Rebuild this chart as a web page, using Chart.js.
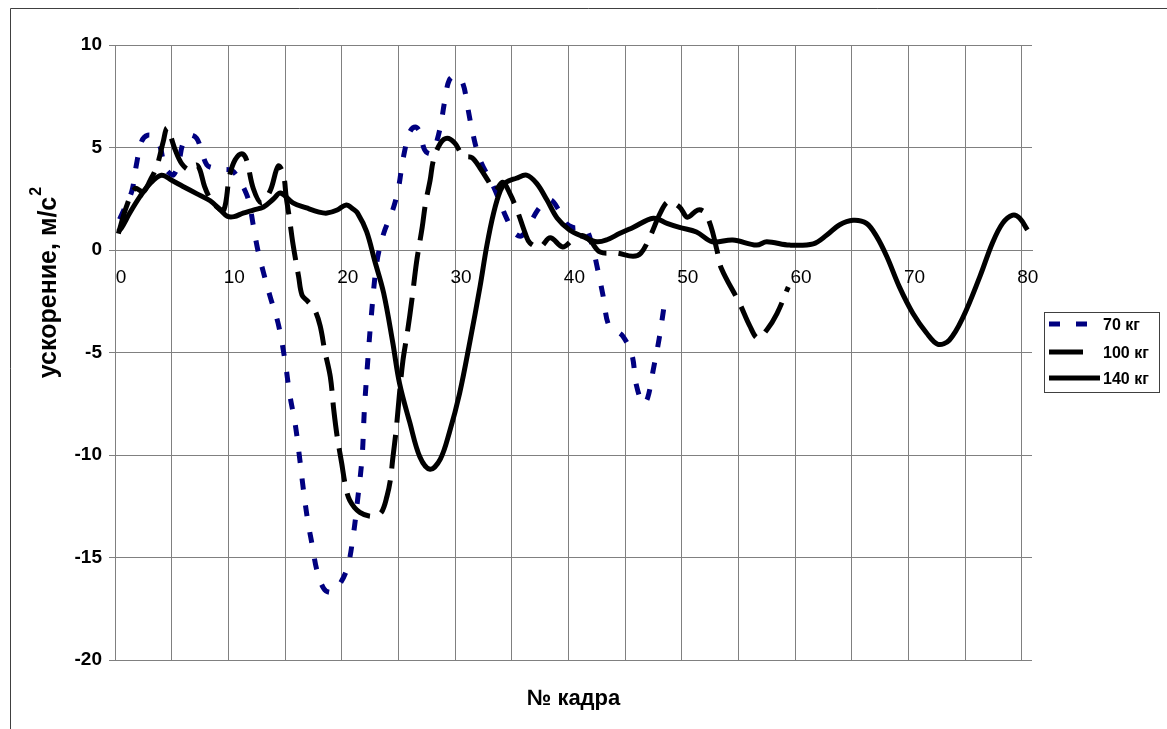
<!DOCTYPE html>
<html>
<head>
<meta charset="utf-8">
<script src="https://cdn.jsdelivr.net/npm/chart.js@4.4.1/dist/chart.umd.min.js"></script>
<style>
  html, body { margin: 0; padding: 0; background: #fff; }
</style>
</head>
<body>
<canvas id="accelChart" width="1167" height="729"></canvas>
<script>
const FONT = '"Liberation Sans", Arial, sans-serif';
const GRID = '#808080';

const seriesNames = ['70 кг', '100 кг', '140 кг'];

// 70 kg
const frames70 = [0.4, 0.9, 1.5, 1.9, 2.35, 2.9, 3.5, 4.0, 4.35, 4.7, 5.15, 5.6, 6.0, 6.6, 7.2, 7.6, 8.1, 8.7, 9.6, 10.3,
  10.9, 11.3, 11.8, 12.2, 12.6, 13.1, 13.7, 14.4, 15.0, 15.4, 15.9, 16.3, 16.6, 17.0, 17.4, 17.8, 18.4, 19.0, 19.7, 20.5,
  21.0, 21.4, 21.8, 22.0, 22.3, 22.6, 23.1, 23.7, 24.5, 25.0, 25.4, 26.0, 26.5, 26.9, 27.3, 27.8, 28.2, 28.7, 29.1, 29.5,
  30.1, 30.7, 31.1, 31.6, 32.2, 33.3, 34.0, 34.5, 35.3, 35.9, 36.6, 37.5, 38.4, 39.1, 39.8, 40.4, 41.0, 41.6, 42.2, 42.5,
  43.1, 43.5, 44.1, 44.8, 45.6, 46.0, 46.6, 47.0, 47.5, 48.0, 48.4];
const accel70 = [1.5, 2.1, 2.9, 4.2, 5.3, 5.6, 5.5, 5.0, 4.1, 3.8, 3.66, 4.2, 5.2, 5.6, 5.45, 4.9, 4.15, 4.0, 3.94, 3.88,
  3.5, 3.1, 2.4, 1.2, 0.0, -1.1, -2.3, -3.6, -5.4, -7.0, -8.5, -10.2, -11.6, -13.2, -14.4, -15.6, -16.5, -16.7, -16.4, -15.5,
  -14.0, -12.2, -10.1, -7.8, -5.4, -3.3, -0.6, 0.8, 1.95, 3.0, 4.4, 5.75, 6.0, 5.75, 4.9, 4.7, 5.0, 6.0, 7.3, 8.3,
  8.5, 8.1, 7.0, 5.6, 4.4, 3.2, 2.3, 1.6, 0.8, 0.7, 1.3, 2.1, 2.45, 2.0, 1.3, 1.1, 1.1, 1.0, 0.0, -0.73,
  -2.35, -3.58, -3.9, -4.2, -5.1, -6.6, -7.5, -7.2, -5.8, -4.35, -2.9];

// 100 kg
const frames100 = [0.3, 1.0, 1.76, 2.5, 3.1, 3.7, 4.26, 4.6, 5.3, 5.9, 6.6, 7.2, 7.5, 7.9, 8.4, 9.0, 9.6, 10.1, 10.6, 11.2,
  11.6, 12.2, 12.9, 13.7, 14.4, 14.85, 15.1, 15.4, 15.7, 16.2, 16.5, 17.0, 17.6, 18.1, 18.5, 19.0, 19.3, 19.6, 20.0, 20.3,
  20.7, 21.6, 22.8, 23.5, 24.0, 24.3, 24.5, 24.8, 25.1, 25.4, 25.8, 26.2, 26.6, 27.1, 27.4, 27.8, 28.1, 28.7, 29.3, 30.0,
  30.7, 31.5, 32.2, 32.9, 33.5, 34.2, 34.8, 35.5, 36.2, 36.6, 37.5, 38.4, 39.5, 40.4, 41.3, 42.0, 42.8, 44.3, 45.7, 46.4,
  47.2, 48.1, 48.8, 49.8, 50.5, 51.4, 52.0, 52.6, 53.1, 53.5, 55.1, 56.0, 56.7, 57.5, 58.4, 59.4];
const accel100 = [0.8, 2.1, 3.0, 2.85, 3.4, 4.1, 5.3, 5.95, 4.9, 4.2, 3.9, 4.15, 3.9, 3.1, 2.5, 2.1, 1.95, 3.6, 4.4, 4.7,
  4.4, 3.0, 2.3, 2.9, 4.1, 3.7, 2.6, 1.5, 0.3, -1.3, -2.2, -2.5, -2.9, -3.7, -4.9, -6.2, -7.8, -9.1, -10.4, -11.4,
  -12.2, -12.8, -13.0, -12.8, -12.0, -11.2, -10.2, -8.8, -7.0, -5.4, -4.0, -2.4, -0.6, 1.1, 2.3, 3.4, 4.4, 5.2, 5.45, 5.2,
  4.6, 4.5, 4.0, 3.4, 2.9, 3.3, 2.8, 1.9, 0.8, 0.35, 0.15, 0.6, 0.15, 0.5, 0.7, 0.4, -0.1, -0.15, -0.3, -0.15,
  0.65, 1.8, 2.35, 2.1, 1.6, 1.95, 1.85, 1.1, 0.0, -0.9, -2.6, -3.7, -4.3, -3.9, -3.1, -1.8];

// 140 kg
const frames140 = [0.3, 0.6, 1.3, 2.2, 3.1, 4.1, 5.0, 6.0, 7.2, 8.4, 9.3, 9.9, 10.5, 11.3, 12.2, 13.1, 14.0, 14.6, 15.7, 16.9,
  18.0, 18.7, 19.6, 20.4, 21.0, 21.4, 22.2, 22.9, 23.7, 24.5, 25.1, 26.0, 26.9, 27.8, 28.7, 29.5, 30.4, 31.3, 32.2, 32.8,
  33.4, 34.0, 34.5, 35.4, 36.3, 37.2, 38.1, 39.0, 40.1, 41.3, 42.5, 43.4, 44.5, 45.7, 47.5, 48.7, 49.8, 51.3, 52.7, 54.5,
  56.6, 57.5, 59.5, 61.6, 62.8, 63.9, 65.1, 66.3, 67.2, 68.1, 69.2, 70.4, 71.6, 72.6, 73.6, 74.8, 76.3, 77.4, 78.3, 79.2,
  79.8, 80.5];
const accel140 = [0.9, 1.1, 1.8, 2.6, 3.25, 3.65, 3.4, 3.1, 2.75, 2.4, 1.95, 1.65, 1.63, 1.8, 1.95, 2.1, 2.5, 2.78, 2.3, 2.05,
  1.85, 1.8, 1.95, 2.2, 2.0, 1.8, 0.9, -0.5, -2.1, -4.5, -6.5, -8.4, -10.1, -10.7, -10.2, -8.9, -7.0, -4.5, -1.8, 0.2,
  1.8, 2.9, 3.3, 3.5, 3.65, 3.25, 2.45, 1.56, 0.98, 0.65, 0.4, 0.5, 0.8, 1.1, 1.55, 1.3, 1.1, 0.88, 0.4, 0.49,
  0.24, 0.4, 0.24, 0.3, 0.73, 1.22, 1.45, 1.3, 0.65, -0.33, -1.8, -3.1, -4.05, -4.6, -4.4, -3.3, -1.3, 0.33, 1.3, 1.7,
  1.56, 0.98];

const xGridFrames = [0, 5, 10, 15, 20, 25, 30, 35, 40, 45, 50, 55, 60, 65, 70, 75, 80];
const yTickValues = [-20, -15, -10, -5, 0, 5, 10];

function series(i, xs, ys, color, dash, order) {
  return {
    label: seriesNames[i],
    data: xs.map((x, k) => ({ x, y: ys[k] })),
    showLine: true,
    borderColor: color,
    backgroundColor: color,
    borderWidth: 5,
    borderDash: dash,
    borderJoinStyle: 'round',
    tension: 0.35,
    pointRadius: 0,
    pointHoverRadius: 0,
    order
  };
}

const datasets = [
  series(0, frames70, accel70, '#000080', [11, 16], 3),
  series(1, frames100, accel100, '#000000', [34, 12], 2),
  series(2, frames140, accel140, '#000000', [], 1)
];

// where each legend sample ends (px), so the long dash shows as one bar
const legendEnds = [1099, 1084, 1100];

const decor = {
  id: 'decor',
  beforeDraw(chart) {
    const c = chart.ctx;
    c.save();
    c.fillStyle = '#fff';
    c.fillRect(0, 0, chart.width, chart.height);
    c.strokeStyle = '#404040';
    c.lineWidth = 1;
    c.beginPath();
    c.moveTo(10.5, chart.height);
    c.lineTo(10.5, 8.5);
    c.lineTo(chart.width, 8.5);
    c.stroke();
    c.restore();
  },
  afterDraw(chart) {
    const c = chart.ctx;
    const area = chart.chartArea;
    c.save();
    c.fillStyle = '#000';

    // x title
    c.font = 'bold 22px ' + FONT;
    c.textAlign = 'center';
    c.textBaseline = 'alphabetic';
    c.fillText('№ кадра', (area.left + area.right) / 2, 705);

    // y title with superscript
    const main = 'ускорение, м/с';
    c.translate(47, 283);
    c.rotate(-Math.PI / 2);
    c.font = 'bold 25px ' + FONT;
    const w = c.measureText(main).width;
    c.font = 'bold 16px ' + FONT;
    const sw = c.measureText('2').width;
    const x0 = -(w + sw) / 2;
    c.textAlign = 'left';
    c.font = 'bold 25px ' + FONT;
    c.fillText(main, x0, 9);
    c.font = 'bold 16px ' + FONT;
    c.fillText('2', x0 + w + 1, -6);
    c.setTransform(1, 0, 0, 1, 0, 0);

    // legend
    const bx = 1044, by = 312, bw = 115, bh = 80;
    c.strokeStyle = '#404040';
    c.lineWidth = 1;
    c.strokeRect(bx + 0.5, by + 0.5, bw, bh);
    const rows = [324, 352, 378];
    chart.data.datasets.forEach((ds, i) => {
      const y = rows[i];
      c.beginPath();
      c.strokeStyle = ds.borderColor;
      c.lineWidth = ds.borderWidth;
      c.setLineDash(ds.borderDash);
      c.moveTo(1049, y);
      c.lineTo(legendEnds[i], y);
      c.stroke();
      c.setLineDash([]);
      c.fillStyle = '#000';
      c.font = 'bold 16px ' + FONT;
      c.textAlign = 'left';
      c.textBaseline = 'middle';
      c.fillText(ds.label, 1103, y + 2);
    });
    c.restore();
  }
};

new Chart(document.getElementById('accelChart'), {
  type: 'scatter',
  data: { datasets },
  options: {
    responsive: false,
    animation: false,
    events: [],
    layout: { padding: { left: 0, top: 45, right: 135, bottom: 69 } },
    plugins: { legend: { display: false }, tooltip: { enabled: false } },
    scales: {
      x: {
        type: 'linear',
        position: { y: 0 },
        min: 0,
        max: 80.9,
        afterBuildTicks: s => { s.ticks = xGridFrames.map(v => ({ value: v })); },
        afterFit: s => { s.paddingLeft = 0; s.paddingRight = 0; },
        grid: { color: GRID, lineWidth: 1, drawTicks: false },
        border: { color: GRID, width: 1 },
        ticks: {
          autoSkip: false,
          maxRotation: 0,
          padding: 16,
          labelOffset: 6,
          color: '#000',
          font: { family: FONT, size: 19 },
          callback: v => (v % 10 === 0 ? String(v) : '')
        }
      },
      y: {
        type: 'linear',
        min: -20,
        max: 10,
        afterBuildTicks: s => { s.ticks = yTickValues.map(v => ({ value: v })); },
        afterFit: s => { s.width = 115; },
        grid: { color: GRID, lineWidth: 1, tickLength: 6 },
        border: { color: GRID, width: 1 },
        ticks: {
          padding: 7,
          color: '#000',
          font: { family: FONT, size: 19, weight: 'bold' }
        }
      }
    }
  },
  plugins: [decor]
});
</script>
</body>
</html>
